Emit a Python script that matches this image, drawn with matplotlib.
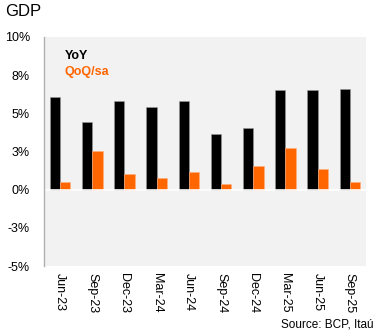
import numpy as np
import matplotlib.pyplot as plt

plt.rcParams['font.family'] = ['Liberation Sans', 'DejaVu Sans']

quarters = ['Jun-23', 'Sep-23', 'Dec-23', 'Mar-24', 'Jun-24',
            'Sep-24', 'Dec-24', 'Mar-25', 'Jun-25', 'Sep-25']
yoy = [6.1, 4.4, 5.8, 5.4, 5.8, 3.65, 4.05, 6.55, 6.55, 6.6]
qoq = [0.5, 2.55, 1.05, 0.75, 1.15, 0.35, 1.55, 2.75, 1.35, 0.5]

black = '#000000'
orange = '#ff6600'

fig = plt.figure(figsize=(3.75, 3.36), dpi=100)
ax = fig.add_axes([0.1173, 0.2083, 0.8587, 0.6816])
ax.set_facecolor('#f2f2f2')

x = np.arange(len(quarters))
w = 0.32
ax.bar(x - w / 2, yoy, w, color=black, edgecolor='#9a9a9a', linewidth=0.4)
ax.bar(x + w / 2, qoq, w, color=orange, edgecolor='#ffb080', linewidth=0.4)

ax.axhline(0, color='white', linewidth=1.2)

ax.set_xlim(-0.5, len(quarters) - 0.5)
ax.set_ylim(-5, 10)
ticks = [10, 7.5, 5, 2.5, 0, -2.5, -5]
labels = ['10%', '8%', '5%', '3%', '0%', '-3%', '-5%']
ax.set_yticks(ticks)
ax.set_yticklabels(labels, fontsize=9)
ax.set_xticks(x)
ax.set_xticklabels(quarters, rotation=-90, fontsize=9, va='top')
ax.tick_params(length=0, pad=10, axis='y')
ax.tick_params(length=0, pad=5, axis='x')

for s in ['top', 'right', 'bottom']:
    ax.spines[s].set_visible(False)
ax.spines['left'].set_color('#b0b0b0')
ax.spines['left'].set_linewidth(1)

ax.text(0.064, 0.905, 'YoY', transform=ax.transAxes, fontsize=9,
        fontweight='bold', color=black)
ax.text(0.064, 0.835, 'QoQ/sa', transform=ax.transAxes, fontsize=9,
        fontweight='bold', color=orange)

fig.text(0.013, 0.952, 'GDP', fontsize=12, color='black')
fig.text(0.995, 0.025, 'Source: BCP, Itaú', fontsize=8.5, ha='right')

fig.savefig('out.png', dpi=100)
